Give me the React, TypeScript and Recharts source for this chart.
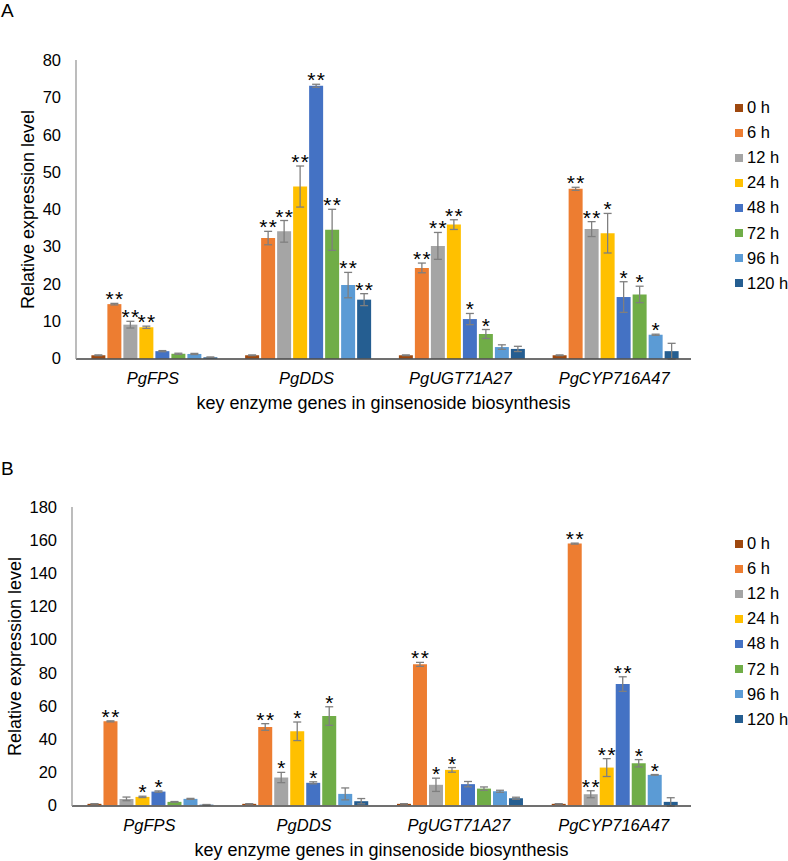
import { Bar, BarChart, ErrorBar, LabelList, XAxis, YAxis, Label } from "recharts";

const genes = ["PgFPS", "PgDDS", "PgUGT71A27", "PgCYP716A47"];
const times = ["0 h", "6 h", "12 h", "24 h", "48 h", "72 h", "96 h", "120 h"];
const timeColors = ["#9E480E", "#ED7D31", "#A5A5A5", "#FFC000", "#4472C4", "#70AD47", "#5B9BD5", "#255E91"];

// panel A: one array per time point, values by gene
const aMeans = [
  [0.9, 0.9, 0.9, 0.9],
  [14.6, 32.3, 24.3, 45.5],
  [9.1, 34.1, 30.2, 34.7],
  [8.4, 46.1, 35.9, 33.6],
  [2.0, 73.1, 10.6, 16.5],
  [1.3, 34.5, 6.6, 17.2],
  [1.25, 19.7, 3.1, 6.4],
  [0.35, 15.8, 2.6, 2.0],
];
const aErrors = [
  [0.1, 0.1, 0.1, 0.1],
  [0.2, 1.8, 1.3, 0.4],
  [0.9, 2.9, 3.6, 2.0],
  [0.3, 5.5, 1.3, 5.3],
  [0.15, 0.4, 1.5, 4.1],
  [0.15, 5.5, 1.2, 2.2],
  [0.15, 3.4, 0.6, 0.15],
  [0.1, 1.6, 0.7, 2.1],
];
const aStars = [
  ["", "", "", ""],
  ["**", "**", "**", "**"],
  ["**", "**", "**", "**"],
  ["**", "**", "**", "*"],
  ["", "**", "*", "*"],
  ["", "**", "*", "*"],
  ["", "**", "", "*"],
  ["", "**", "", ""],
];
const aTicks = [0, 10, 20, 30, 40, 50, 60, 70, 80];

// panel B
const bMeans = [
  [0.8, 0.8, 0.8, 0.8],
  [50.6, 47.2, 85.0, 157.9],
  [3.8, 16.7, 12.3, 6.6],
  [5.0, 44.6, 21.3, 22.7],
  [8.2, 13.5, 12.7, 73.1],
  [2.0, 53.8, 10.0, 25.3],
  [3.8, 6.8, 8.4, 18.3],
  [0.3, 2.4, 4.2, 2.0],
];
const bErrors = [
  [0.1, 0.1, 0.1, 0.1],
  [0.3, 2.0, 1.2, 0.3],
  [1.1, 3.1, 4.0, 2.1],
  [0.4, 5.6, 1.4, 5.4],
  [0.4, 0.6, 1.6, 4.4],
  [0.2, 5.6, 1.0, 2.2],
  [0.3, 3.6, 0.6, 0.2],
  [0.1, 1.6, 0.6, 2.5],
];
const bStars = [
  ["", "", "", ""],
  ["**", "**", "**", "**"],
  ["", "*", "*", "**"],
  ["*", "*", "*", "**"],
  ["*", "*", "", "**"],
  ["", "*", "", "*"],
  ["", "", "", "*"],
  ["", "", "", ""],
];
const bTicks = [0, 20, 40, 60, 80, 100, 120, 140, 160, 180];

const FONT = "'Liberation Sans', Arial, sans-serif";

function buildRows(means: number[][], errors: number[][], stars: string[][]) {
  return genes.map((gene, g) => {
    const row: Record<string, string | number> = { gene };
    times.forEach((_, t) => {
      row[`t${t}`] = means[t][g];
      row[`t${t}_err`] = errors[t][g];
      row[`t${t}_sig`] = stars[t][g];
    });
    return row;
  });
}

function StarLabel(props: any) {
  const { x, y, width, height, value } = props;
  if (!value) return null;
  const [sig, err, val] = String(value).split("|");
  if (!sig) return null;
  const pxPerUnit = Number(height) / Number(val);
  const top = Number(y) - Number(err) * pxPerUnit;
  return (
    <text
      x={Number(x) + Number(width) / 2 + 0.75}
      y={top + 3}
      textAnchor="middle"
      fontSize={21}
      letterSpacing={1.5}
      fill="#000"
      fontFamily={FONT}
    >
      {sig}
    </text>
  );
}

interface PanelProps {
  letter: string;
  top: number;
  height: number;
  rows: Record<string, string | number>[];
  ticks: number[];
  yWidth: number;
  marginTop: number;
  marginBottom: number;
  yLabelX: number;
  legendTop: number;
  letterTop: number;
}

function Panel({ letter, top, height, rows, ticks, yWidth, marginTop, marginBottom, yLabelX, legendTop, letterTop }: PanelProps) {
  return (
    <div style={{ position: "absolute", left: 0, top, width: 788, height }}>
      <div style={{ position: "absolute", left: 1, top: letterTop, fontSize: 19, color: "#000" }}>{letter}</div>
      <BarChart
        width={788}
        height={height}
        data={rows}
        margin={{ top: marginTop, right: 97, bottom: marginBottom, left: 0 }}
        barGap={2}
        barCategoryGap="10%"
      >
        <XAxis
          dataKey="gene"
          height={50}
          tickSize={0}
          tickMargin={13}
          axisLine={{ stroke: "#404040", strokeWidth: 1.3 }}
          tick={{ fontSize: 16.5, fontStyle: "italic", fill: "#000" }}
        >
          <Label
            value="key enzyme genes in ginsenoside biosynthesis"
            position="insideBottom"
            offset={0}
            style={{ fontSize: 18, fill: "#000" }}
          />
        </XAxis>
        <YAxis
          width={yWidth}
          domain={[0, ticks[ticks.length - 1]]}
          ticks={ticks}
          interval={0}
          tickSize={0}
          tickMargin={15}
          axisLine={{ stroke: "#999", strokeWidth: 1.3 }}
          tick={{ fontSize: 16.5, fill: "#000" }}
        >
          <Label
            content={(p: any) => {
              const vb = p.viewBox || {};
              const cy = (vb.y ?? 0) + (vb.height ?? 0) / 2;
              return (
                <text
                  x={yLabelX}
                  y={cy}
                  transform={`rotate(-90, ${yLabelX}, ${cy})`}
                  textAnchor="middle"
                  dominantBaseline="central"
                  fontSize={18}
                  fill="#000"
                >
                  Relative expression level
                </text>
              );
            }}
          />
        </YAxis>
        {times.map((t, i) => (
          <Bar key={t} dataKey={`t${i}`} name={t} fill={timeColors[i]} isAnimationActive={false}>
            <ErrorBar dataKey={`t${i}_err`} width={4} stroke="#7F7F7F" strokeWidth={1.3} direction="y" />
            <LabelList
              dataKey={(row: any) => `${row[`t${i}_sig`]}|${row[`t${i}_err`]}|${row[`t${i}`]}`}
              content={StarLabel}
            />
          </Bar>
        ))}
      </BarChart>
      <div style={{ position: "absolute", left: 735, top: legendTop }}>
        {times.map((t, i) => (
          <div key={t} style={{ display: "flex", alignItems: "center", height: 25.1, fontSize: 16.5, color: "#000" }}>
            <span style={{ width: 8, height: 8, background: timeColors[i], marginRight: 4, display: "inline-block" }} />
            <span style={{ whiteSpace: "nowrap" }}>{t}</span>
          </div>
        ))}
      </div>
    </div>
  );
}

export default function App() {
  const rowsA = buildRows(aMeans, aErrors, aStars);
  const rowsB = buildRows(bMeans, bErrors, bStars);
  return (
    <div
      style={{
        position: "absolute",
        left: 0,
        top: 0,
        width: 788,
        height: 861,
        overflow: "hidden",
        background: "#fff",
        fontFamily: FONT,
      }}
    >
      <Panel
        letter="A"
        top={0}
        height={420}
        rows={rowsA}
        ticks={aTicks}
        yWidth={76}
        marginTop={60}
        marginBottom={11}
        yLabelX={28}
        legendTop={95}
        letterTop={0}
      />
      <Panel
        letter="B"
        top={420}
        height={441}
        rows={rowsB}
        ticks={bTicks}
        yWidth={72}
        marginTop={87}
        marginBottom={5}
        yLabelX={15}
        legendTop={111}
        letterTop={38}
      />
    </div>
  );
}
